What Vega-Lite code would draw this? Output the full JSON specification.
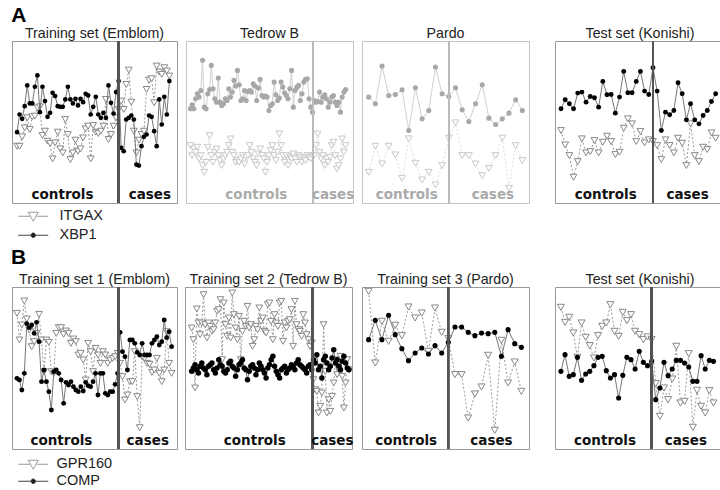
{
"$schema": "https://vega.github.io/schema/vega-lite/v6.json",
"padding": {"left": 11, "top": 4, "right": 0, "bottom": 0},
"config": {"view": {"stroke": "#999", "strokeWidth": 1}, "font": "Liberation Sans", "title": {"fontSize": 14.2, "fontWeight": "normal", "color": "#222", "offset": -1}},
"datasets": {
"labs": [
{"p":"A1","lab":"controls","x":18.9},{"p":"A1","lab":"cases","x":53.3},
{"p":"A2","lab":"controls","x":38.8},{"p":"A2","lab":"cases","x":82.8},
{"p":"A3","lab":"controls","x":6.7},{"p":"A3","lab":"cases","x":19.6},
{"p":"A4","lab":"controls","x":11.7},{"p":"A4","lab":"cases","x":31.3},
{"p":"B1","lab":"controls","x":19.1},{"p":"B1","lab":"cases","x":54.3},
{"p":"B2","lab":"controls","x":38.3},{"p":"B2","lab":"cases","x":84.2},
{"p":"B3","lab":"controls","x":6.65},{"p":"B3","lab":"cases","x":19.5},
{"p":"B4","lab":"controls","x":11.7},{"p":"B4","lab":"cases","x":31.3}
],
"expr": [
{"p":"A1","i":1,"t":17,"c":21.2},{"p":"A1","i":2,"t":17,"c":26.5},{"p":"A1","i":3,"t":19.8,"c":25.2},{"p":"A1","i":4,"t":22.5,"c":29},{"p":"A1","i":5,"t":25.5,"c":35.2},{"p":"A1","i":6,"t":22,"c":29.8},{"p":"A1","i":7,"t":25.8,"c":29.8},{"p":"A1","i":8,"t":26,"c":34.8},{"p":"A1","i":9,"t":28.5,"c":38.2},{"p":"A1","i":10,"t":28.8,"c":27.2},
{"p":"A1","i":11,"t":20.2,"c":34.8},{"p":"A1","i":12,"t":21.5,"c":30.5},{"p":"A1","i":13,"t":18.5,"c":25.8},{"p":"A1","i":14,"t":17.8,"c":27},{"p":"A1","i":15,"t":13.2,"c":33},{"p":"A1","i":16,"t":18,"c":32},{"p":"A1","i":17,"t":21.2,"c":29},{"p":"A1","i":18,"t":16.2,"c":28.8},{"p":"A1","i":19,"t":15,"c":28.8},{"p":"A1","i":20,"t":25,"c":31},
{"p":"A1","i":21,"t":20.5,"c":34.8},{"p":"A1","i":22,"t":13,"c":31},{"p":"A1","i":23,"t":15,"c":29.8},{"p":"A1","i":24,"t":18.8,"c":31.2},{"p":"A1","i":25,"t":15.5,"c":29.2},{"p":"A1","i":26,"t":16.2,"c":31.2},{"p":"A1","i":27,"t":19.5,"c":30.2},{"p":"A1","i":28,"t":22.2,"c":32.7},{"p":"A1","i":29,"t":23,"c":32.2},{"p":"A1","i":30,"t":13.2,"c":26.5},
{"p":"A1","i":31,"t":23.2,"c":28.8},{"p":"A1","i":32,"t":21.2,"c":31.8},{"p":"A1","i":33,"t":20.8,"c":26.5},{"p":"A1","i":34,"t":21.5,"c":25.5},{"p":"A1","i":35,"t":23,"c":27},{"p":"A1","i":36,"t":31,"c":25.5},{"p":"A1","i":37,"t":19,"c":35.2},{"p":"A1","i":38,"t":20.5,"c":30},{"p":"A1","i":39,"t":23,"c":26.8},{"p":"A1","i":40,"t":25.5,"c":33.2},
{"p":"A1","i":41,"t":28,"c":36.5},{"p":"A1","i":42,"t":30.5,"c":16.5},{"p":"A1","i":43,"t":28,"c":15.5},{"p":"A1","i":44,"t":35.5,"c":25},{"p":"A1","i":45,"t":39.8,"c":25.5},{"p":"A1","i":46,"t":30.2,"c":26.2},{"p":"A1","i":47,"t":21.5,"c":25},{"p":"A1","i":48,"t":15,"c":11.5},{"p":"A1","i":49,"t":18.8,"c":11.2},{"p":"A1","i":50,"t":20.5,"c":17},
{"p":"A1","i":51,"t":21.5,"c":19.8},{"p":"A1","i":52,"t":34,"c":20.5},{"p":"A1","i":53,"t":36.8,"c":26.2},{"p":"A1","i":54,"t":37.2,"c":25.8},{"p":"A1","i":55,"t":30,"c":21.5},{"p":"A1","i":56,"t":41,"c":17},{"p":"A1","i":57,"t":39.2,"c":31},{"p":"A1","i":58,"t":38.5,"c":23.5},{"p":"A1","i":59,"t":40.5,"c":31.8},{"p":"A1","i":60,"t":39.5,"c":26.5},
{"p":"A1","i":61,"t":38,"c":36.5},
{"p":"A2","i":1,"t":17.2,"c":28.2},{"p":"A2","i":2,"t":14.2,"c":29.4},{"p":"A2","i":3,"t":16.2,"c":28.2},{"p":"A2","i":4,"t":15.2,"c":31.2},{"p":"A2","i":5,"t":16.7,"c":32.7},{"p":"A2","i":6,"t":13.2,"c":31.7},{"p":"A2","i":7,"t":14.2,"c":33.7},{"p":"A2","i":8,"t":11.2,"c":42.7},{"p":"A2","i":9,"t":9.2,"c":28.7},{"p":"A2","i":10,"t":12.2,"c":28.2},
{"p":"A2","i":11,"t":16.7,"c":32.7},{"p":"A2","i":12,"t":20.2,"c":34},{"p":"A2","i":13,"t":14.2,"c":41.2},{"p":"A2","i":14,"t":12.2,"c":34.2},{"p":"A2","i":15,"t":15.2,"c":31.2},{"p":"A2","i":16,"t":16.2,"c":30.2},{"p":"A2","i":17,"t":14.2,"c":37.4},{"p":"A2","i":18,"t":12.7,"c":30.2},{"p":"A2","i":19,"t":11.2,"c":29.2},{"p":"A2","i":20,"t":13.2,"c":29.7},
{"p":"A2","i":21,"t":14.2,"c":31.2},{"p":"A2","i":22,"t":15.2,"c":30.7},{"p":"A2","i":23,"t":17.2,"c":34.2},{"p":"A2","i":24,"t":19.2,"c":31.7},{"p":"A2","i":25,"t":15.2,"c":33.2},{"p":"A2","i":26,"t":14.2,"c":36.7},{"p":"A2","i":27,"t":12.2,"c":35},{"p":"A2","i":28,"t":12.7,"c":39.7},{"p":"A2","i":29,"t":12.2,"c":35.4},{"p":"A2","i":30,"t":13.2,"c":30.7},
{"p":"A2","i":31,"t":14.2,"c":31.2},{"p":"A2","i":32,"t":11.7,"c":33.7},{"p":"A2","i":33,"t":13.7,"c":30.7},{"p":"A2","i":34,"t":14.2,"c":33.4},{"p":"A2","i":35,"t":17.2,"c":33.7},{"p":"A2","i":36,"t":15.2,"c":33.2},{"p":"A2","i":37,"t":13.2,"c":35.7},{"p":"A2","i":38,"t":12.2,"c":35},{"p":"A2","i":39,"t":11.2,"c":30.7},{"p":"A2","i":40,"t":14.7,"c":34.4},
{"p":"A2","i":41,"t":16.2,"c":37},{"p":"A2","i":42,"t":14.2,"c":32.2},{"p":"A2","i":43,"t":13.2,"c":31.7},{"p":"A2","i":44,"t":9.2,"c":32},{"p":"A2","i":45,"t":12.2,"c":31.7},{"p":"A2","i":46,"t":14.2,"c":27.7},{"p":"A2","i":47,"t":15.7,"c":29.2},{"p":"A2","i":48,"t":17.2,"c":29.7},{"p":"A2","i":49,"t":14.2,"c":36.2},{"p":"A2","i":50,"t":12.7,"c":32.4},
{"p":"A2","i":51,"t":15.2,"c":30.7},{"p":"A2","i":52,"t":20.7,"c":31.4},{"p":"A2","i":53,"t":17.2,"c":36.2},{"p":"A2","i":54,"t":14.2,"c":34.7},{"p":"A2","i":55,"t":12.2,"c":33},{"p":"A2","i":56,"t":14.2,"c":32.2},{"p":"A2","i":57,"t":11.2,"c":31.2},{"p":"A2","i":58,"t":13.7,"c":34.2},{"p":"A2","i":59,"t":13.2,"c":39.7},{"p":"A2","i":60,"t":14.7,"c":28.7},
{"p":"A2","i":61,"t":13.2,"c":33.7},{"p":"A2","i":62,"t":12.2,"c":34.7},{"p":"A2","i":63,"t":14.2,"c":35.2},{"p":"A2","i":64,"t":13.7,"c":30.7},{"p":"A2","i":65,"t":12.2,"c":32.7},{"p":"A2","i":66,"t":13.2,"c":36.2},{"p":"A2","i":67,"t":12.7,"c":37},{"p":"A2","i":68,"t":14.2,"c":37.2},{"p":"A2","i":69,"t":13.7,"c":31.2},{"p":"A2","i":70,"t":13.2,"c":28.7},
{"p":"A2","i":71,"t":14.2,"c":27.2},{"p":"A2","i":72,"t":14.2,"c":30.7},{"p":"A2","i":73,"t":17.2,"c":30.2},{"p":"A2","i":74,"t":20.7,"c":30.4},{"p":"A2","i":75,"t":15.2,"c":33.2},{"p":"A2","i":76,"t":13.2,"c":30.2},{"p":"A2","i":77,"t":14.2,"c":31.7},{"p":"A2","i":78,"t":11.2,"c":32.4},{"p":"A2","i":79,"t":13.2,"c":31.2},{"p":"A2","i":80,"t":12.2,"c":28.7},
{"p":"A2","i":81,"t":13.7,"c":30.2},{"p":"A2","i":82,"t":17.2,"c":31.7},{"p":"A2","i":83,"t":18.2,"c":32.2},{"p":"A2","i":84,"t":14.2,"c":30.2},{"p":"A2","i":85,"t":10.2,"c":29.2},{"p":"A2","i":86,"t":11.2,"c":30.2},{"p":"A2","i":87,"t":13.2,"c":27.2},{"p":"A2","i":88,"t":19.2,"c":31.7},{"p":"A2","i":89,"t":15.2,"c":33.2},{"p":"A2","i":90,"t":17.2,"c":34},
{"p":"A3","i":1,"t":9.2,"c":31.7},{"p":"A3","i":2,"t":17,"c":29.7},{"p":"A3","i":3,"t":11.7,"c":41},{"p":"A3","i":4,"t":17,"c":32.2},{"p":"A3","i":5,"t":14.4,"c":32.5},{"p":"A3","i":6,"t":7.4,"c":33.9},{"p":"A3","i":7,"t":19.2,"c":21.7},{"p":"A3","i":8,"t":11.9,"c":34.5},{"p":"A3","i":9,"t":6.9,"c":25.2},{"p":"A3","i":10,"t":9.2,"c":27.7},
{"p":"A3","i":11,"t":5.4,"c":40.7},{"p":"A3","i":12,"t":11.2,"c":32.7},{"p":"A3","i":13,"t":19.4,"c":31.9},{"p":"A3","i":14,"t":24,"c":34.5},{"p":"A3","i":15,"t":14.2,"c":27.9},{"p":"A3","i":16,"t":14.2,"c":24.4},{"p":"A3","i":17,"t":11.7,"c":29.7},{"p":"A3","i":18,"t":8.2,"c":35.4},{"p":"A3","i":19,"t":10.4,"c":25.4},{"p":"A3","i":20,"t":14.2,"c":23.5},
{"p":"A3","i":21,"t":19.4,"c":25.2},{"p":"A3","i":22,"t":4.4,"c":26.9},{"p":"A3","i":23,"t":17.2,"c":30.9},{"p":"A3","i":24,"t":12.7,"c":27.7},
{"p":"A4","i":1,"t":21.7,"c":28.2},{"p":"A4","i":2,"t":17.4,"c":30.9},{"p":"A4","i":3,"t":14.2,"c":29.7},{"p":"A4","i":4,"t":7.7,"c":28.2},{"p":"A4","i":5,"t":12.4,"c":32.9},{"p":"A4","i":6,"t":19.2,"c":33.2},{"p":"A4","i":7,"t":15,"c":30.2},{"p":"A4","i":8,"t":15.4,"c":31.9},{"p":"A4","i":9,"t":18.7,"c":31.5},{"p":"A4","i":10,"t":15,"c":28.7},
{"p":"A4","i":11,"t":18.2,"c":36.4},{"p":"A4","i":12,"t":20,"c":32.4},{"p":"A4","i":13,"t":18.4,"c":32.5},{"p":"A4","i":14,"t":14.5,"c":26.9},{"p":"A4","i":15,"t":15.2,"c":31.7},{"p":"A4","i":16,"t":22.4,"c":39.4},{"p":"A4","i":17,"t":25.2,"c":33},{"p":"A4","i":18,"t":23.7,"c":33},{"p":"A4","i":19,"t":18.4,"c":36.4},{"p":"A4","i":20,"t":21.4,"c":39.4},
{"p":"A4","i":21,"t":18,"c":33.5},{"p":"A4","i":22,"t":18.9,"c":32.5},{"p":"A4","i":23,"t":18.4,"c":40.5},{"p":"A4","i":24,"t":17.2,"c":33.5},{"p":"A4","i":25,"t":13,"c":21.7},{"p":"A4","i":26,"t":18.9,"c":27.2},{"p":"A4","i":27,"t":17.2,"c":26.4},{"p":"A4","i":28,"t":15,"c":27.7},{"p":"A4","i":29,"t":19.4,"c":36},{"p":"A4","i":30,"t":17.9,"c":32.7},
{"p":"A4","i":31,"t":11.2,"c":24.9},{"p":"A4","i":32,"t":23.7,"c":29.7},{"p":"A4","i":33,"t":14.2,"c":24.9},{"p":"A4","i":34,"t":12.4,"c":23.7},{"p":"A4","i":35,"t":16.7,"c":26.2},{"p":"A4","i":36,"t":16,"c":27.7},{"p":"A4","i":37,"t":21,"c":30.4},{"p":"A4","i":38,"t":19.4,"c":32.7},
{"p":"B1","i":1,"t":40.7,"c":21.2},{"p":"B1","i":2,"t":32.7,"c":20.7},{"p":"B1","i":3,"t":37.2,"c":17.7},{"p":"B1","i":4,"t":44.4,"c":22.7},{"p":"B1","i":5,"t":39,"c":37.6},{"p":"B1","i":6,"t":35.7,"c":36.4},{"p":"B1","i":7,"t":30.7,"c":37.2},{"p":"B1","i":8,"t":32.2,"c":34.7},{"p":"B1","i":9,"t":34.7,"c":38},{"p":"B1","i":10,"t":40.4,"c":32.2},
{"p":"B1","i":11,"t":32.7,"c":20.2},{"p":"B1","i":12,"t":23.2,"c":23.7},{"p":"B1","i":13,"t":32.7,"c":20.2},{"p":"B1","i":14,"t":32,"c":17.2},{"p":"B1","i":15,"t":23.2,"c":11.7},{"p":"B1","i":16,"t":22.7,"c":23.2},{"p":"B1","i":17,"t":34.7,"c":23.7},{"p":"B1","i":18,"t":36.4,"c":22.7},{"p":"B1","i":19,"t":36.4,"c":20.7},{"p":"B1","i":20,"t":34.4,"c":13.7},
{"p":"B1","i":21,"t":35.4,"c":20},{"p":"B1","i":22,"t":34.7,"c":19.2},{"p":"B1","i":23,"t":31.7,"c":20.2},{"p":"B1","i":24,"t":33,"c":18.7},{"p":"B1","i":25,"t":32.2,"c":17.7},{"p":"B1","i":26,"t":28.2,"c":17.2},{"p":"B1","i":27,"t":28.7,"c":18.7},{"p":"B1","i":28,"t":26.7,"c":17.4},{"p":"B1","i":29,"t":20.7,"c":20},{"p":"B1","i":30,"t":31.7,"c":19},
{"p":"B1","i":31,"t":29.2,"c":18.7},{"p":"B1","i":32,"t":23.2,"c":20.2},{"p":"B1","i":33,"t":30.2,"c":22.7},{"p":"B1","i":34,"t":28.2,"c":16.2},{"p":"B1","i":35,"t":25.7,"c":22.7},{"p":"B1","i":36,"t":29.2,"c":22.7},{"p":"B1","i":37,"t":28.2,"c":16.7},{"p":"B1","i":38,"t":25.7,"c":16.2},{"p":"B1","i":39,"t":26.7,"c":17.2},{"p":"B1","i":40,"t":27.2,"c":17.2},
{"p":"B1","i":41,"t":27.7,"c":19.4},{"p":"B1","i":42,"t":28.7,"c":22.7},{"p":"B1","i":43,"t":25.7,"c":35},{"p":"B1","i":44,"t":21.7,"c":29.2},{"p":"B1","i":45,"t":14.7,"c":27.7},{"p":"B1","i":46,"t":16.2,"c":23.7},{"p":"B1","i":47,"t":20.2,"c":32.7},{"p":"B1","i":48,"t":20.2,"c":32.7},{"p":"B1","i":49,"t":29.2,"c":31.7},{"p":"B1","i":50,"t":15.7,"c":29},
{"p":"B1","i":51,"t":6.4,"c":28.2},{"p":"B1","i":52,"t":27.7,"c":31.7},{"p":"B1","i":53,"t":27.2,"c":28.2},{"p":"B1","i":54,"t":25.7,"c":28.2},{"p":"B1","i":55,"t":25.4,"c":28.2},{"p":"B1","i":56,"t":23,"c":31.7},{"p":"B1","i":57,"t":23.7,"c":32.7},{"p":"B1","i":58,"t":27.2,"c":33.7},{"p":"B1","i":59,"t":22.7,"c":31.2},{"p":"B1","i":60,"t":20.2,"c":32.2},
{"p":"B1","i":61,"t":23.7,"c":38.7},{"p":"B1","i":62,"t":35.2,"c":33.4},{"p":"B1","i":63,"t":25.7,"c":35.2},{"p":"B1","i":64,"t":22.7,"c":30.7},
{"p":"B2","i":1,"t":36.3,"c":23.3},{"p":"B2","i":2,"t":32.8,"c":24.3},{"p":"B2","i":3,"t":18.3,"c":25.3},{"p":"B2","i":4,"t":42,"c":23.8},{"p":"B2","i":5,"t":37.8,"c":22.8},{"p":"B2","i":6,"t":34.3,"c":24.8},{"p":"B2","i":7,"t":37.8,"c":25.8},{"p":"B2","i":8,"t":46.3,"c":24.3},{"p":"B2","i":9,"t":37.3,"c":23.8},{"p":"B2","i":10,"t":33.3,"c":22.3},
{"p":"B2","i":11,"t":37.8,"c":24.8},{"p":"B2","i":12,"t":36.8,"c":25.3},{"p":"B2","i":13,"t":35.3,"c":25.8},{"p":"B2","i":14,"t":35.8,"c":23.8},{"p":"B2","i":15,"t":37.8,"c":22.8},{"p":"B2","i":16,"t":41.3,"c":24.3},{"p":"B2","i":17,"t":41.8,"c":26.8},{"p":"B2","i":18,"t":44.8,"c":25.3},{"p":"B2","i":19,"t":26.8,"c":24.8},{"p":"B2","i":20,"t":43.8,"c":23.3},
{"p":"B2","i":21,"t":37.3,"c":22.8},{"p":"B2","i":22,"t":33.8,"c":23.8},{"p":"B2","i":23,"t":39.3,"c":25.8},{"p":"B2","i":24,"t":33.3,"c":26.3},{"p":"B2","i":25,"t":46.8,"c":24.8},{"p":"B2","i":26,"t":40.3,"c":24.3},{"p":"B2","i":27,"t":36.3,"c":21.8},{"p":"B2","i":28,"t":32.8,"c":23.8},{"p":"B2","i":29,"t":39.8,"c":25.3},{"p":"B2","i":30,"t":26.8,"c":25.8},
{"p":"B2","i":31,"t":35.3,"c":26.8},{"p":"B2","i":32,"t":38.3,"c":24.3},{"p":"B2","i":33,"t":36.8,"c":23.8},{"p":"B2","i":34,"t":42.8,"c":20.8},{"p":"B2","i":35,"t":36.3,"c":23.3},{"p":"B2","i":36,"t":37.3,"c":24.8},{"p":"B2","i":37,"t":30.8,"c":25.3},{"p":"B2","i":38,"t":32.8,"c":24.3},{"p":"B2","i":39,"t":36.8,"c":22.3},{"p":"B2","i":40,"t":35.8,"c":23.8},
{"p":"B2","i":41,"t":42.3,"c":25.8},{"p":"B2","i":42,"t":38.3,"c":24.8},{"p":"B2","i":43,"t":39.3,"c":23.8},{"p":"B2","i":44,"t":35.3,"c":22.8},{"p":"B2","i":45,"t":34.8,"c":21.3},{"p":"B2","i":46,"t":43.3,"c":24.3},{"p":"B2","i":47,"t":43.8,"c":25.3},{"p":"B2","i":48,"t":38.3,"c":26.8},{"p":"B2","i":49,"t":32.8,"c":27.8},{"p":"B2","i":50,"t":40.3,"c":24.8},
{"p":"B2","i":51,"t":37.8,"c":23.3},{"p":"B2","i":52,"t":36.8,"c":22.3},{"p":"B2","i":53,"t":43.8,"c":21.3},{"p":"B2","i":54,"t":44.3,"c":23.8},{"p":"B2","i":55,"t":32.3,"c":24.3},{"p":"B2","i":56,"t":37.8,"c":24.8},{"p":"B2","i":57,"t":36.3,"c":22.8},{"p":"B2","i":58,"t":38.3,"c":23.8},{"p":"B2","i":59,"t":38.8,"c":24.3},{"p":"B2","i":60,"t":41.8,"c":25.3},
{"p":"B2","i":61,"t":30.8,"c":24.8},{"p":"B2","i":62,"t":44.3,"c":23.8},{"p":"B2","i":63,"t":37.3,"c":25.8},{"p":"B2","i":64,"t":35.8,"c":26.8},{"p":"B2","i":65,"t":35.3,"c":25.3},{"p":"B2","i":66,"t":33.8,"c":24.8},{"p":"B2","i":67,"t":40.3,"c":24.3},{"p":"B2","i":68,"t":37.8,"c":23.8},{"p":"B2","i":69,"t":34.3,"c":22.8},{"p":"B2","i":70,"t":32.8,"c":24.8},
{"p":"B2","i":71,"t":30.8,"c":25.3},{"p":"B2","i":72,"t":31.8,"c":23.8},{"p":"B2","i":73,"t":20.8,"c":26.8},{"p":"B2","i":74,"t":17.8,"c":25.8},{"p":"B2","i":75,"t":17.3,"c":28.3},{"p":"B2","i":76,"t":10.8,"c":23.8},{"p":"B2","i":77,"t":12.8,"c":24.8},{"p":"B2","i":78,"t":16.8,"c":21.3},{"p":"B2","i":79,"t":37.3,"c":26.8},{"p":"B2","i":80,"t":23.3,"c":27.8},
{"p":"B2","i":81,"t":10.8,"c":25.8},{"p":"B2","i":82,"t":14.8,"c":23.8},{"p":"B2","i":83,"t":11.3,"c":24.8},{"p":"B2","i":84,"t":15.8,"c":27.3},{"p":"B2","i":85,"t":19.8,"c":29.8},{"p":"B2","i":86,"t":26.8,"c":25.8},{"p":"B2","i":87,"t":22.3,"c":26.8},{"p":"B2","i":88,"t":23.8,"c":24.8},{"p":"B2","i":89,"t":27.8,"c":23.8},{"p":"B2","i":90,"t":21.8,"c":26.3},
{"p":"B2","i":91,"t":12.3,"c":27.8},{"p":"B2","i":92,"t":19.8,"c":25.8},{"p":"B2","i":93,"t":26.8,"c":24.3},{"p":"B2","i":94,"t":23.8,"c":23.8},
{"p":"B3","i":1,"t":47.3,"c":32.8},{"p":"B3","i":2,"t":25.8,"c":38.6},{"p":"B3","i":3,"t":38.3,"c":32.8},{"p":"B3","i":4,"t":32.3,"c":40.1},{"p":"B3","i":5,"t":37.1,"c":34.3},{"p":"B3","i":6,"t":34,"c":30.1},{"p":"B3","i":7,"t":42.6,"c":26.5},{"p":"B3","i":8,"t":39.3,"c":28.8},{"p":"B3","i":9,"t":40.8,"c":30.3},{"p":"B3","i":10,"t":29.3,"c":28.5},
{"p":"B3","i":11,"t":42.3,"c":31},{"p":"B3","i":12,"t":35,"c":28.8},{"p":"B3","i":13,"t":33.1,"c":32},{"p":"B3","i":14,"t":22.3,"c":36.6},{"p":"B3","i":15,"t":22.3,"c":36.6},{"p":"B3","i":16,"t":9.3,"c":35},{"p":"B3","i":17,"t":16.5,"c":34},{"p":"B3","i":18,"t":18.6,"c":34.8},{"p":"B3","i":19,"t":28.1,"c":34.6},{"p":"B3","i":20,"t":5.6,"c":35},
{"p":"B3","i":21,"t":32.6,"c":27.8},{"p":"B3","i":22,"t":19.8,"c":35.8},{"p":"B3","i":23,"t":26.1,"c":31.6},{"p":"B3","i":24,"t":17.3,"c":30.5},
{"p":"B4","i":1,"t":42.5,"c":23.3},{"p":"B4","i":2,"t":38,"c":28.3},{"p":"B4","i":3,"t":39.5,"c":21.8},{"p":"B4","i":4,"t":34.8,"c":22.3},{"p":"B4","i":5,"t":27.5,"c":27.5},{"p":"B4","i":6,"t":37.8,"c":20.6},{"p":"B4","i":7,"t":33.5,"c":22.5},{"p":"B4","i":8,"t":31,"c":23.3},{"p":"B4","i":9,"t":27.3,"c":25},{"p":"B4","i":10,"t":34,"c":27.5},
{"p":"B4","i":11,"t":36.8,"c":27.8},{"p":"B4","i":12,"t":37.8,"c":23.5},{"p":"B4","i":13,"t":43.3,"c":21.3},{"p":"B4","i":14,"t":35.3,"c":22.3},{"p":"B4","i":15,"t":33.8,"c":15.3},{"p":"B4","i":16,"t":41,"c":22.1},{"p":"B4","i":17,"t":38.5,"c":27.5},{"p":"B4","i":18,"t":40.3,"c":26.8},{"p":"B4","i":19,"t":35.3,"c":24},{"p":"B4","i":20,"t":34.3,"c":29.3},
{"p":"B4","i":21,"t":32.8,"c":26},{"p":"B4","i":22,"t":33.6,"c":25},{"p":"B4","i":23,"t":32.8,"c":26.3},{"p":"B4","i":24,"t":19.6,"c":14.8},{"p":"B4","i":25,"t":9.8,"c":18.3},{"p":"B4","i":26,"t":18.3,"c":26},{"p":"B4","i":27,"t":14.8,"c":22},{"p":"B4","i":28,"t":21,"c":24},{"p":"B4","i":29,"t":30.8,"c":26.6},{"p":"B4","i":30,"t":13.8,"c":26.6},
{"p":"B4","i":31,"t":14.3,"c":25.8},{"p":"B4","i":32,"t":28.6,"c":24.6},{"p":"B4","i":33,"t":6.5,"c":20.3},{"p":"B4","i":34,"t":17.6,"c":20.3},{"p":"B4","i":35,"t":12.8,"c":28},{"p":"B4","i":36,"t":10.8,"c":24},{"p":"B4","i":37,"t":17.5,"c":26.6},{"p":"B4","i":38,"t":13.8,"c":26.3}
]
},
"resolve": {"scale": {"shape": "independent", "fill": "independent", "stroke": "independent"}},
"spacing": 3,
"vconcat": [
{
"title": {"text": "A", "anchor": "start", "fontSize": 21, "fontWeight": "bold", "color": "#000", "offset": 1},
"resolve": {"scale": {"shape": "independent", "fill": "independent", "stroke": "independent"}},
"spacing": 24,
"hconcat": [
{
"resolve": {"scale": {"shape": "independent", "fill": "independent", "stroke": "independent"}},
"spacing": 6,
"hconcat": [
{
"width": 165, "height": 162, "title": "Training set (Emblom)",
"data": {"name": "expr"}, "transform": [{"filter": "datum.p == 'A1'"}],
"layer": [
{"mark": {"type": "line", "stroke": "#999", "strokeDash": [2, 2], "strokeWidth": 1}, "encoding": {"x": {"field": "i", "type": "quantitative", "scale": {"domain": [-1, 64], "nice": false}, "axis": null}, "y": {"field": "t", "type": "quantitative", "scale": {"domain": [0, 48.5], "nice": false}, "axis": null}}},
{"mark": {"type": "point", "shape": "triangle-down", "filled": true, "fill": "white", "stroke": "#888", "strokeWidth": 1, "size": 46, "opacity": 1}, "encoding": {"x": {"field": "i", "type": "quantitative"}, "y": {"field": "t", "type": "quantitative"}}},
{"mark": {"type": "line", "stroke": "#777", "strokeWidth": 1}, "encoding": {"x": {"field": "i", "type": "quantitative"}, "y": {"field": "c", "type": "quantitative"}}},
{"mark": {"type": "point", "shape": "circle", "filled": true, "fill": "#000", "size": 22, "opacity": 1}, "encoding": {"x": {"field": "i", "type": "quantitative"}, "y": {"field": "c", "type": "quantitative"}}},
{"mark": {"type": "rule", "stroke": "#555", "strokeWidth": 1.5}, "encoding": {"x": {"datum": 41}}},
{"data": {"name": "labs"}, "transform": [{"filter": "datum.p == 'A1'"}], "mark": {"type": "text", "font": "DejaVu Sans", "fontWeight": "bold", "fontSize": 13.5, "baseline": "alphabetic", "dy": -4, "color": "#111"}, "encoding": {"x": {"field": "x", "type": "quantitative"}, "y": {"datum": 0}, "text": {"field": "lab"}}},
{"data": {"values": [{"g": "ITGAX"}, {"g": "XBP1"}]}, "transform": [{"filter": "false"}], "mark": {"type": "point", "opacity": 1, "strokeWidth": 1},
 "encoding": {
  "shape": {"field": "g", "type": "nominal", "scale": {"domain": ["ITGAX", "XBP1"], "range": ["M-3,0H-0.7M0.7,0H3M-1,-0.8L1,-0.8L0,1Z", "M-3,0H3M0.45,0A0.45,0.45,0,1,1,-0.45,0A0.45,0.45,0,1,1,0.45,0Z"]}, "legend": {"orient": "none", "legendX": 14, "legendY": 168, "title": null, "symbolSize": 100, "labelFontSize": 14.5, "labelFont": "Liberation Sans", "labelColor": "#222", "labelOffset": 19, "rowPadding": 3, "symbolStrokeWidth": 1, "padding": 0}},
  "fill": {"field": "g", "type": "nominal", "scale": {"domain": ["ITGAX", "XBP1"], "range": ["white", "black"]}, "legend": {"orient": "none", "legendX": 14, "legendY": 168, "title": null, "symbolSize": 100, "labelFontSize": 14.5, "labelFont": "Liberation Sans", "labelColor": "#222", "labelOffset": 19, "rowPadding": 3, "symbolStrokeWidth": 1, "padding": 0}},
  "stroke": {"field": "g", "type": "nominal", "scale": {"domain": ["ITGAX", "XBP1"], "range": ["#999", "#444"]}, "legend": {"orient": "none", "legendX": 14, "legendY": 168, "title": null, "symbolSize": 100, "labelFontSize": 14.5, "labelFont": "Liberation Sans", "labelColor": "#222", "labelOffset": 19, "rowPadding": 3, "symbolStrokeWidth": 1, "padding": 0}}
 }}
]
},
{
"width": 167, "height": 162, "title": "Tedrow B", "view": {"stroke": "#c4c4c4"},
"data": {"name": "expr"}, "transform": [{"filter": "datum.p == 'A2'"}],
"layer": [
{"mark": {"type": "line", "stroke": "#ddd", "strokeDash": [2, 2], "strokeWidth": 1}, "encoding": {"x": {"field": "i", "type": "quantitative", "scale": {"domain": [-1.5, 94.2], "nice": false}, "axis": null}, "y": {"field": "t", "type": "quantitative", "scale": {"domain": [0, 48.5], "nice": false}, "axis": null}}},
{"mark": {"type": "point", "shape": "triangle-down", "filled": true, "fill": "white", "stroke": "#c8c8c8", "strokeWidth": 1, "size": 44, "opacity": 1}, "encoding": {"x": {"field": "i", "type": "quantitative"}, "y": {"field": "t", "type": "quantitative"}}},
{"mark": {"type": "line", "stroke": "#d0d0d0", "strokeWidth": 1}, "encoding": {"x": {"field": "i", "type": "quantitative"}, "y": {"field": "c", "type": "quantitative"}}},
{"mark": {"type": "point", "shape": "circle", "filled": true, "fill": "#a8a8a8", "size": 26, "opacity": 1}, "encoding": {"x": {"field": "i", "type": "quantitative"}, "y": {"field": "c", "type": "quantitative"}}},
{"mark": {"type": "rule", "stroke": "#bbb", "strokeWidth": 1.2}, "encoding": {"x": {"datum": 71.2}}},
{"data": {"name": "labs"}, "transform": [{"filter": "datum.p == 'A2'"}], "mark": {"type": "text", "font": "DejaVu Sans", "fontWeight": "bold", "fontSize": 13.5, "baseline": "alphabetic", "dy": -4, "color": "#aaa"}, "encoding": {"x": {"field": "x", "type": "quantitative"}, "y": {"datum": 0}, "text": {"field": "lab"}}}
]
},
{
"width": 167, "height": 162, "title": "Pardo", "view": {"stroke": "#c4c4c4"},
"data": {"name": "expr"}, "transform": [{"filter": "datum.p == 'A3'"}],
"layer": [
{"mark": {"type": "line", "stroke": "#ddd", "strokeDash": [2, 2], "strokeWidth": 1}, "encoding": {"x": {"field": "i", "type": "quantitative", "scale": {"domain": [0, 25], "nice": false}, "axis": null}, "y": {"field": "t", "type": "quantitative", "scale": {"domain": [0, 48.5], "nice": false}, "axis": null}}},
{"mark": {"type": "point", "shape": "triangle-down", "filled": true, "fill": "white", "stroke": "#c8c8c8", "strokeWidth": 1, "size": 46, "opacity": 1}, "encoding": {"x": {"field": "i", "type": "quantitative"}, "y": {"field": "t", "type": "quantitative"}}},
{"mark": {"type": "line", "stroke": "#d0d0d0", "strokeWidth": 1}, "encoding": {"x": {"field": "i", "type": "quantitative"}, "y": {"field": "c", "type": "quantitative"}}},
{"mark": {"type": "point", "shape": "circle", "filled": true, "fill": "#a8a8a8", "size": 26, "opacity": 1}, "encoding": {"x": {"field": "i", "type": "quantitative"}, "y": {"field": "c", "type": "quantitative"}}},
{"mark": {"type": "rule", "stroke": "#bbb", "strokeWidth": 1.2}, "encoding": {"x": {"datum": 13}}},
{"data": {"name": "labs"}, "transform": [{"filter": "datum.p == 'A3'"}], "mark": {"type": "text", "font": "DejaVu Sans", "fontWeight": "bold", "fontSize": 13.5, "baseline": "alphabetic", "dy": -4, "color": "#aaa"}, "encoding": {"x": {"field": "x", "type": "quantitative"}, "y": {"datum": 0}, "text": {"field": "lab"}}}
]
}
]
},
{
"width": 170, "height": 162, "title": "Test set (Konishi)",
"data": {"name": "expr"}, "transform": [{"filter": "datum.p == 'A4'"}],
"layer": [
{"mark": {"type": "line", "stroke": "#999", "strokeDash": [2, 2], "strokeWidth": 1}, "encoding": {"x": {"field": "i", "type": "quantitative", "scale": {"domain": [-0.44, 40.24], "nice": false}, "axis": null}, "y": {"field": "t", "type": "quantitative", "scale": {"domain": [0, 48.5], "nice": false}, "axis": null}}},
{"mark": {"type": "point", "shape": "triangle-down", "filled": true, "fill": "white", "stroke": "#888", "strokeWidth": 1, "size": 46, "opacity": 1}, "encoding": {"x": {"field": "i", "type": "quantitative"}, "y": {"field": "t", "type": "quantitative"}}},
{"mark": {"type": "line", "stroke": "#777", "strokeWidth": 1}, "encoding": {"x": {"field": "i", "type": "quantitative"}, "y": {"field": "c", "type": "quantitative"}}},
{"mark": {"type": "point", "shape": "circle", "filled": true, "fill": "#000", "size": 24, "opacity": 1}, "encoding": {"x": {"field": "i", "type": "quantitative"}, "y": {"field": "c", "type": "quantitative"}}},
{"mark": {"type": "rule", "stroke": "#555", "strokeWidth": 1.5}, "encoding": {"x": {"datum": 23}}},
{"data": {"name": "labs"}, "transform": [{"filter": "datum.p == 'A4'"}], "mark": {"type": "text", "font": "DejaVu Sans", "fontWeight": "bold", "fontSize": 13.5, "baseline": "alphabetic", "dy": -4, "color": "#111"}, "encoding": {"x": {"field": "x", "type": "quantitative"}, "y": {"datum": 0}, "text": {"field": "lab"}}}
]
}
]
},
{
"title": {"text": "B", "anchor": "start", "fontSize": 21, "fontWeight": "bold", "color": "#000", "offset": 5},
"resolve": {"scale": {"shape": "independent", "fill": "independent", "stroke": "independent"}},
"spacing": 24,
"hconcat": [
{
"resolve": {"scale": {"shape": "independent", "fill": "independent", "stroke": "independent"}},
"spacing": 6,
"hconcat": [
{
"width": 165, "height": 162, "title": "Training set 1 (Emblom)",
"data": {"name": "expr"}, "transform": [{"filter": "datum.p == 'B1'"}],
"layer": [
{"mark": {"type": "line", "stroke": "#999", "strokeDash": [2, 2], "strokeWidth": 1}, "encoding": {"x": {"field": "i", "type": "quantitative", "scale": {"domain": [-1.02, 66.2], "nice": false}, "axis": null}, "y": {"field": "t", "type": "quantitative", "scale": {"domain": [0, 48.6], "nice": false}, "axis": null}}},
{"mark": {"type": "point", "shape": "triangle-down", "filled": true, "fill": "white", "stroke": "#888", "strokeWidth": 1, "size": 46, "opacity": 1}, "encoding": {"x": {"field": "i", "type": "quantitative"}, "y": {"field": "t", "type": "quantitative"}}},
{"mark": {"type": "line", "stroke": "#777", "strokeWidth": 1}, "encoding": {"x": {"field": "i", "type": "quantitative"}, "y": {"field": "c", "type": "quantitative"}}},
{"mark": {"type": "point", "shape": "circle", "filled": true, "fill": "#000", "size": 24, "opacity": 1}, "encoding": {"x": {"field": "i", "type": "quantitative"}, "y": {"field": "c", "type": "quantitative"}}},
{"mark": {"type": "rule", "stroke": "#555", "strokeWidth": 1.5}, "encoding": {"x": {"datum": 42.3}}},
{"data": {"name": "labs"}, "transform": [{"filter": "datum.p == 'B1'"}], "mark": {"type": "text", "font": "DejaVu Sans", "fontWeight": "bold", "fontSize": 13.5, "baseline": "alphabetic", "dy": -4, "color": "#111"}, "encoding": {"x": {"field": "x", "type": "quantitative"}, "y": {"datum": 0}, "text": {"field": "lab"}}},
{"data": {"values": [{"g": "GPR160"}, {"g": "COMP"}]}, "transform": [{"filter": "false"}], "mark": {"type": "point", "opacity": 1, "strokeWidth": 1},
 "encoding": {
  "shape": {"field": "g", "type": "nominal", "scale": {"domain": ["GPR160", "COMP"], "range": ["M-3,0H-0.7M0.7,0H3M-1,-0.8L1,-0.8L0,1Z", "M-3,0H3M0.45,0A0.45,0.45,0,1,1,-0.45,0A0.45,0.45,0,1,1,0.45,0Z"]}, "legend": {"orient": "none", "legendX": 14, "legendY": 170, "title": null, "symbolSize": 100, "labelFontSize": 14.5, "labelFont": "Liberation Sans", "labelColor": "#222", "labelOffset": 16, "rowPadding": 1, "symbolStrokeWidth": 1, "padding": 0}},
  "fill": {"field": "g", "type": "nominal", "scale": {"domain": ["GPR160", "COMP"], "range": ["white", "black"]}, "legend": {"orient": "none", "legendX": 14, "legendY": 170, "title": null, "symbolSize": 100, "labelFontSize": 14.5, "labelFont": "Liberation Sans", "labelColor": "#222", "labelOffset": 16, "rowPadding": 1, "symbolStrokeWidth": 1, "padding": 0}},
  "stroke": {"field": "g", "type": "nominal", "scale": {"domain": ["GPR160", "COMP"], "range": ["#999", "#444"]}, "legend": {"orient": "none", "legendX": 14, "legendY": 170, "title": null, "symbolSize": 100, "labelFontSize": 14.5, "labelFont": "Liberation Sans", "labelColor": "#222", "labelOffset": 16, "rowPadding": 1, "symbolStrokeWidth": 1, "padding": 0}}
 }}
]
},
{
"width": 167, "height": 162, "title": "Training set 2 (Tedrow B)",
"data": {"name": "expr"}, "transform": [{"filter": "datum.p == 'B2'"}],
"layer": [
{"mark": {"type": "line", "stroke": "#999", "strokeDash": [2, 2], "strokeWidth": 1}, "encoding": {"x": {"field": "i", "type": "quantitative", "scale": {"domain": [-2.95, 95.8], "nice": false}, "axis": null}, "y": {"field": "t", "type": "quantitative", "scale": {"domain": [0, 48.6], "nice": false}, "axis": null}}},
{"mark": {"type": "point", "shape": "triangle-down", "filled": true, "fill": "white", "stroke": "#888", "strokeWidth": 1, "size": 46, "opacity": 1}, "encoding": {"x": {"field": "i", "type": "quantitative"}, "y": {"field": "t", "type": "quantitative"}}},
{"mark": {"type": "line", "stroke": "#777", "strokeWidth": 1}, "encoding": {"x": {"field": "i", "type": "quantitative"}, "y": {"field": "c", "type": "quantitative"}}},
{"mark": {"type": "point", "shape": "circle", "filled": true, "fill": "#000", "size": 30, "opacity": 1}, "encoding": {"x": {"field": "i", "type": "quantitative"}, "y": {"field": "c", "type": "quantitative"}}},
{"mark": {"type": "rule", "stroke": "#555", "strokeWidth": 1.5}, "encoding": {"x": {"datum": 72.5}}},
{"data": {"name": "labs"}, "transform": [{"filter": "datum.p == 'B2'"}], "mark": {"type": "text", "font": "DejaVu Sans", "fontWeight": "bold", "fontSize": 13.5, "baseline": "alphabetic", "dy": -4, "color": "#111"}, "encoding": {"x": {"field": "x", "type": "quantitative"}, "y": {"datum": 0}, "text": {"field": "lab"}}}
]
},
{
"width": 167, "height": 162, "title": "Training set 3 (Pardo)",
"data": {"name": "expr"}, "transform": [{"filter": "datum.p == 'B3'"}],
"layer": [
{"mark": {"type": "line", "stroke": "#999", "strokeDash": [2, 2], "strokeWidth": 1}, "encoding": {"x": {"field": "i", "type": "quantitative", "scale": {"domain": [0, 25.15], "nice": false}, "axis": null}, "y": {"field": "t", "type": "quantitative", "scale": {"domain": [0, 48.6], "nice": false}, "axis": null}}},
{"mark": {"type": "point", "shape": "triangle-down", "filled": true, "fill": "white", "stroke": "#888", "strokeWidth": 1, "size": 50, "opacity": 1}, "encoding": {"x": {"field": "i", "type": "quantitative"}, "y": {"field": "t", "type": "quantitative"}}},
{"mark": {"type": "line", "stroke": "#777", "strokeWidth": 1}, "encoding": {"x": {"field": "i", "type": "quantitative"}, "y": {"field": "c", "type": "quantitative"}}},
{"mark": {"type": "point", "shape": "circle", "filled": true, "fill": "#000", "size": 26, "opacity": 1}, "encoding": {"x": {"field": "i", "type": "quantitative"}, "y": {"field": "c", "type": "quantitative"}}},
{"mark": {"type": "rule", "stroke": "#555", "strokeWidth": 1.5}, "encoding": {"x": {"datum": 13}}},
{"data": {"name": "labs"}, "transform": [{"filter": "datum.p == 'B3'"}], "mark": {"type": "text", "font": "DejaVu Sans", "fontWeight": "bold", "fontSize": 13.5, "baseline": "alphabetic", "dy": -4, "color": "#111"}, "encoding": {"x": {"field": "x", "type": "quantitative"}, "y": {"datum": 0}, "text": {"field": "lab"}}}
]
}
]
},
{
"width": 170, "height": 162, "title": "Test set (Konishi)",
"data": {"name": "expr"}, "transform": [{"filter": "datum.p == 'B4'"}],
"layer": [
{"mark": {"type": "line", "stroke": "#999", "strokeDash": [2, 2], "strokeWidth": 1}, "encoding": {"x": {"field": "i", "type": "quantitative", "scale": {"domain": [-0.44, 40.8], "nice": false}, "axis": null}, "y": {"field": "t", "type": "quantitative", "scale": {"domain": [0, 48.6], "nice": false}, "axis": null}}},
{"mark": {"type": "point", "shape": "triangle-down", "filled": true, "fill": "white", "stroke": "#888", "strokeWidth": 1, "size": 50, "opacity": 1}, "encoding": {"x": {"field": "i", "type": "quantitative"}, "y": {"field": "t", "type": "quantitative"}}},
{"mark": {"type": "line", "stroke": "#777", "strokeWidth": 1}, "encoding": {"x": {"field": "i", "type": "quantitative"}, "y": {"field": "c", "type": "quantitative"}}},
{"mark": {"type": "point", "shape": "circle", "filled": true, "fill": "#000", "size": 26, "opacity": 1}, "encoding": {"x": {"field": "i", "type": "quantitative"}, "y": {"field": "c", "type": "quantitative"}}},
{"mark": {"type": "rule", "stroke": "#555", "strokeWidth": 1.5}, "encoding": {"x": {"datum": 23}}},
{"data": {"name": "labs"}, "transform": [{"filter": "datum.p == 'B4'"}], "mark": {"type": "text", "font": "DejaVu Sans", "fontWeight": "bold", "fontSize": 13.5, "baseline": "alphabetic", "dy": -4, "color": "#111"}, "encoding": {"x": {"field": "x", "type": "quantitative"}, "y": {"datum": 0}, "text": {"field": "lab"}}}
]
}
]
}
]
}
